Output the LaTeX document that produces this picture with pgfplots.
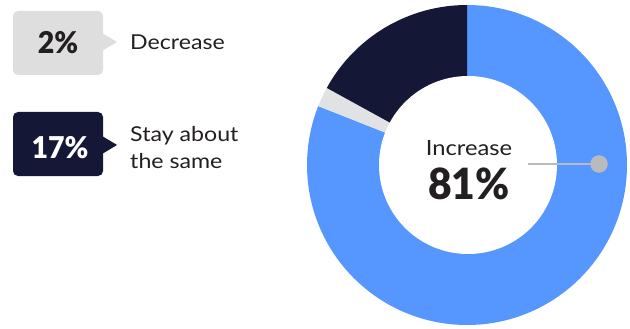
\documentclass[border=0pt]{standalone}
\usepackage{pgfplots}
\pgfplotsset{compat=1.18}
\usepackage{pgfplotstable}
\usepackage{fontspec}
\setmainfont[FakeStretch=1.13]{Lato}
\newfontfamily\numfont[FakeStretch=0.95, BoldFont={Lato Black}]{Lato}
\definecolor{cblue}{HTML}{5596FF}
\definecolor{cnavy}{HTML}{141836}
\definecolor{cgray}{HTML}{E1E2E4}
\definecolor{cbadge}{HTML}{DEDEDE}
\definecolor{cdot}{HTML}{B9BABD}
\definecolor{ctext}{HTML}{231F20}
\pgfplotstableread{
label value
Increase 81
Decrease 2
Same 17
}\shares
\begin{document}
\begin{tikzpicture}
\pgfplotstablegetelem{0}{value}\of\shares \let\vA\pgfplotsretval
\pgfplotstablegetelem{1}{value}\of\shares \let\vB\pgfplotsretval
\pgfplotstablegetelem{2}{value}\of\shares \let\vC\pgfplotsretval
\pgfmathsetmacro\aA{90-3.6*\vA}
\pgfmathsetmacro\aB{\aA-3.6*\vB}
\pgfmathsetmacro\aC{\aB-3.6*\vC}
\begin{axis}[
  width=630pt, height=329pt, scale only axis,
  xmin=0, xmax=630, ymin=0, ymax=329, y dir=reverse,
  axis lines=none, ticks=none, clip=false,
]
\path (axis cs:0,0) rectangle (axis cs:630,329);
% donut
\fill[cblue] (axis cs:467,165) -- ++(90:160pt) arc[start angle=90, end angle=\aA, radius=160pt] -- cycle;
\fill[cgray] (axis cs:467,165) -- ++(\aA:160pt) arc[start angle=\aA, end angle=\aB, radius=160pt] -- cycle;
\fill[cnavy] (axis cs:467,165) -- ++(\aB:160pt) arc[start angle=\aB, end angle=\aC, radius=160pt] -- cycle;
\fill[white] (axis cs:468,165) circle[radius=89pt];
% leader
\draw[cdot, line width=1.6pt] (axis cs:528,164) -- (axis cs:599,164);
\addplot[only marks, mark=*, mark size=8.5pt, cdot, mark options={draw=none, fill=cdot}] coordinates {(599,164)};
\node[anchor=base, font=\fontsize{21}{24}\selectfont, text=ctext, inner sep=0pt] at (axis cs:469,156) {Increase};
\node[anchor=base, font=\fontsize{43}{46}\numfont\bfseries, text=ctext, inner sep=0pt] at (axis cs:469,199) {81\%};
% badges
\fill[cbadge, rounded corners=5pt] (axis cs:13,11) rectangle (axis cs:103,75);
\fill[cbadge] (axis cs:102,33) -- (axis cs:117,42) -- (axis cs:102,51) -- cycle;
\fill[cnavy, rounded corners=5pt] (axis cs:13,112) rectangle (axis cs:103,176);
\fill[cnavy] (axis cs:102,136) -- (axis cs:117,145) -- (axis cs:102,154) -- cycle;
\node[anchor=base, font=\fontsize{30}{32}\numfont\bfseries, text=ctext, inner sep=0pt] at (axis cs:58,54) {2\%};
\node[anchor=base, font=\fontsize{30}{32}\numfont\bfseries, text=white, inner sep=0pt] at (axis cs:60,158) {17\%};
\node[anchor=base west, font=\fontsize{20.5}{24}\selectfont, text=ctext, inner sep=0pt] at (axis cs:130,50) {Decrease};
\node[anchor=base west, font=\fontsize{20.5}{24}\selectfont, text=ctext, inner sep=0pt] at (axis cs:130,142) {Stay about};
\node[anchor=base west, font=\fontsize{20.5}{24}\selectfont, text=ctext, inner sep=0pt] at (axis cs:130,168) {the same};
\end{axis}
\end{tikzpicture}
\end{document}
